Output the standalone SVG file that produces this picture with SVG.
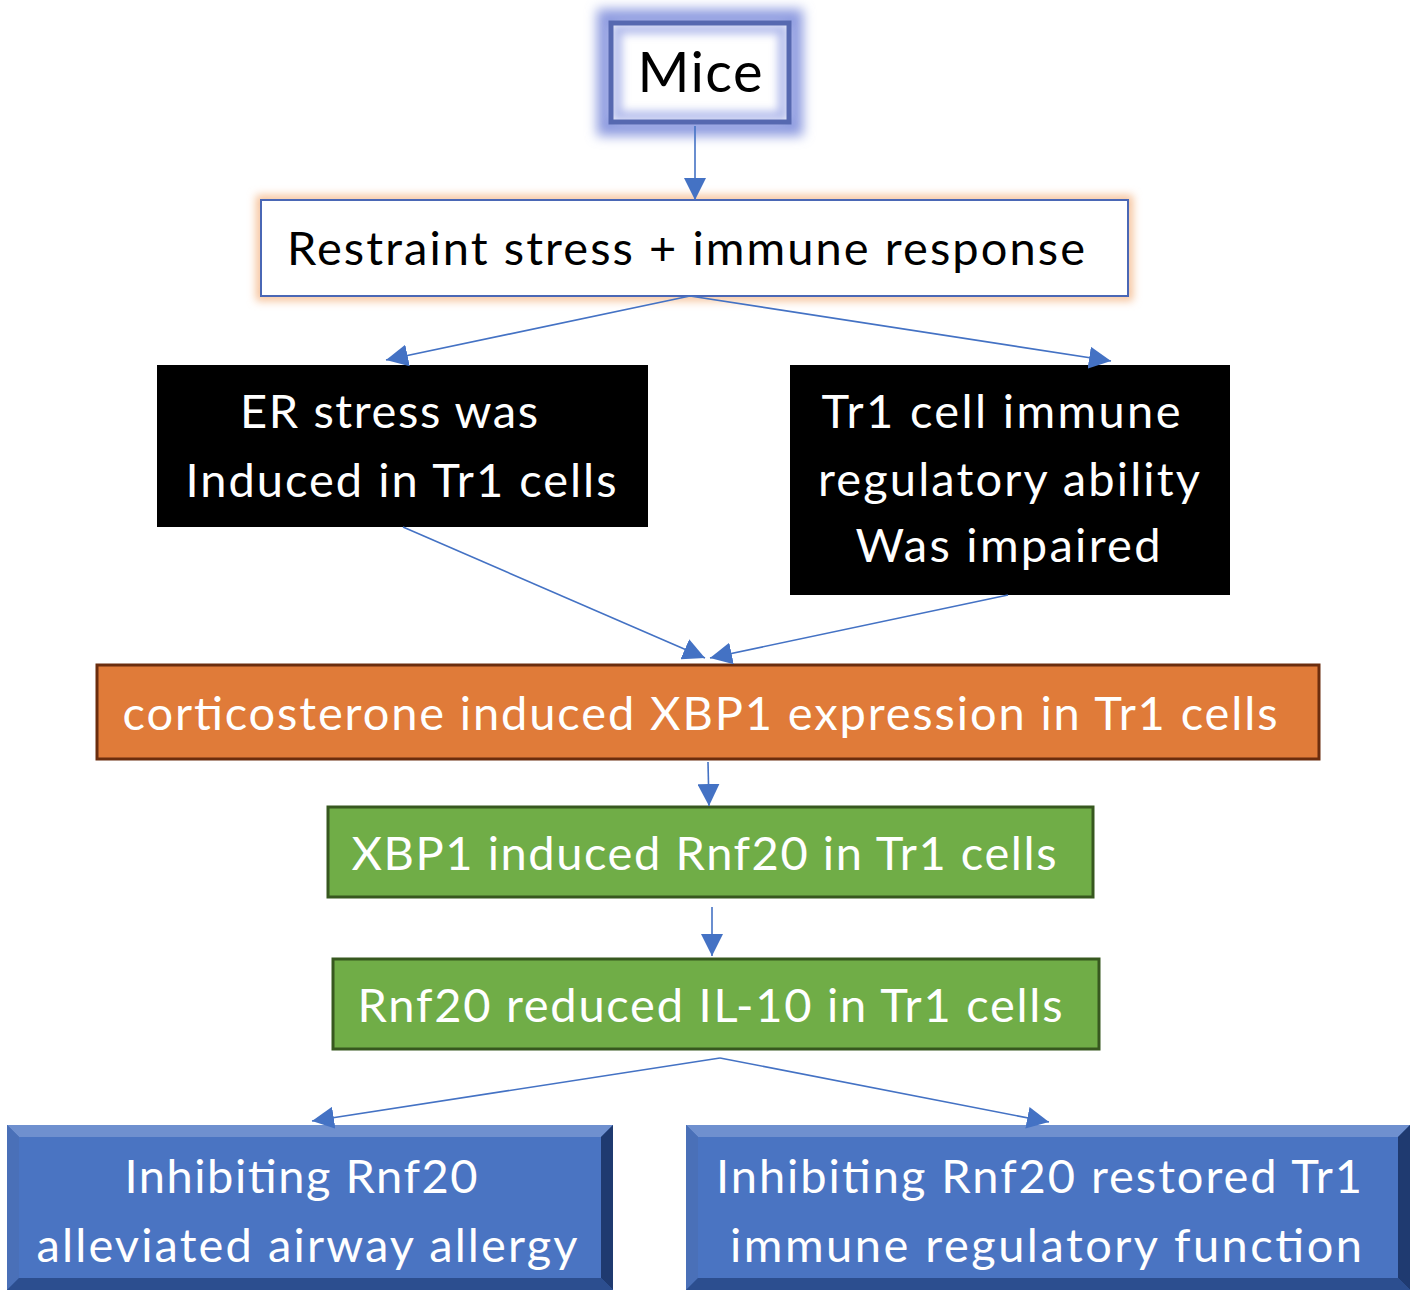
<svg xmlns="http://www.w3.org/2000/svg" width="1417" height="1300" viewBox="0 0 1417 1300">
<defs>
<style>
text{font-family:"Lato","Open Sans","Liberation Sans",sans-serif;font-size:47px;text-anchor:middle}
.blk{fill:#000}
.wht{fill:#fff}
.conn line{stroke:#4472c4;stroke-width:1.6;fill:none}
.bevT{fill:#6f90cf}
.bevL{fill:#4a70b8}
.bevR{fill:#1f3a70}
.bevB{fill:#2c4e8f}
.bevIn{fill:#4a74c2}
</style>
<marker id="ah" viewBox="0 0 20 20" refX="20" refY="10" markerWidth="22" markerHeight="22" markerUnits="userSpaceOnUse" orient="auto">
<path d="M0,0 L20,10 L0,20 Z" fill="#4472c4"/>
</marker>
<filter id="glowB" x="-30%" y="-30%" width="160%" height="160%">
<feGaussianBlur stdDeviation="6"/>
</filter>
<filter id="glowIn" x="-10%" y="-10%" width="120%" height="120%">
<feGaussianBlur stdDeviation="4"/>
</filter>
<filter id="glowO" x="-10%" y="-30%" width="120%" height="160%">
<feGaussianBlur stdDeviation="4"/>
</filter>
</defs>
<rect width="1417" height="1300" fill="#fff"/>

<g id="mice">
<rect x="606" y="18" width="188" height="109" fill="none" stroke="#8e9be0" stroke-width="18" filter="url(#glowB)"/>
<rect x="611" y="23" width="178" height="99" fill="#fff"/>
<rect x="617" y="29" width="166" height="87" fill="none" stroke="#b3bcec" stroke-width="10" filter="url(#glowIn)"/>
<rect x="611" y="23" width="178" height="99" fill="none" stroke="#5668b0" stroke-width="5"/>
<text class="blk" x="700" y="92" style="font-size:56px" textLength="125">Mice</text>
</g>

<g id="restraint">
<rect x="261" y="200" width="867" height="96" fill="none" stroke="#f6c29a" stroke-width="10" filter="url(#glowO)"/>
<rect x="261" y="200" width="867" height="96" fill="#fff" stroke="#4a67b5" stroke-width="2"/>
<text class="blk" x="686" y="265" textLength="798">Restraint stress + immune response</text>
</g>

<g id="er">
<rect x="157" y="365" width="491" height="162" fill="#000"/>
<text class="wht" x="389" y="428" textLength="298">ER stress was</text>
<text class="wht" x="401" y="497" textLength="431">Induced in Tr1 cells</text>
</g>

<g id="tr1">
<rect x="790" y="365" width="440" height="230" fill="#000"/>
<text class="wht" x="1001" y="428" textLength="359">Tr1 cell immune</text>
<text class="wht" x="1009" y="496" textLength="382">regulatory ability</text>
<text class="wht" x="1008" y="562" textLength="305">Was impaired</text>
</g>

<g id="cort">
<rect x="97" y="665" width="1222" height="94" fill="#e07b39" stroke="#6b2d0e" stroke-width="3"/>
<text class="wht" x="700" y="730" textLength="1155">corticosterone induced XBP1 expression in Tr1 cells</text>
</g>

<g id="xbp1">
<rect x="328" y="807" width="765" height="90" fill="#70ad47" stroke="#37581f" stroke-width="3"/>
<text class="wht" x="704" y="870" textLength="705">XBP1 induced Rnf20 in Tr1 cells</text>
</g>

<g id="rnf20">
<rect x="333" y="959" width="766" height="90" fill="#70ad47" stroke="#37581f" stroke-width="3"/>
<text class="wht" x="710" y="1022" textLength="705">Rnf20 reduced IL-10 in Tr1 cells</text>
</g>

<g id="allergy">
<rect x="7" y="1125" width="606" height="165" fill="#3d65ae"/>
<polygon class="bevT" points="7,1125 613,1125 601,1137 19,1137"/>
<polygon class="bevL" points="7,1125 19,1137 19,1278 7,1290"/>
<polygon class="bevR" points="613,1125 613,1290 601,1278 601,1137"/>
<polygon class="bevB" points="7,1290 19,1278 601,1278 613,1290"/>
<rect class="bevIn" x="19" y="1137" width="582" height="141"/>
<text class="wht" x="301" y="1193" textLength="353">Inhibiting Rnf20</text>
<text class="wht" x="307" y="1262" textLength="541">alleviated airway allergy</text>
</g>

<g id="restored">
<rect x="686" y="1125" width="724" height="165" fill="#3d65ae"/>
<polygon class="bevT" points="686,1125 1410,1125 1398,1137 698,1137"/>
<polygon class="bevL" points="686,1125 698,1137 698,1278 686,1290"/>
<polygon class="bevR" points="1410,1125 1410,1290 1398,1278 1398,1137"/>
<polygon class="bevB" points="686,1290 698,1278 1398,1278 1410,1290"/>
<rect class="bevIn" x="698" y="1137" width="700" height="141"/>
<text class="wht" x="1039" y="1193" textLength="646">Inhibiting Rnf20 restored Tr1</text>
<text class="wht" x="1046" y="1262" textLength="632">immune regulatory function</text>
</g>

<g class="conn" id="connectors">
<line x1="695" y1="126" x2="695" y2="200" marker-end="url(#ah)"/>
<line x1="690" y1="296" x2="386" y2="360" marker-end="url(#ah)"/>
<line x1="690" y1="296" x2="1111" y2="361" marker-end="url(#ah)"/>
<line x1="403" y1="527" x2="705" y2="658" marker-end="url(#ah)"/>
<line x1="1008" y1="595" x2="710" y2="658" marker-end="url(#ah)"/>
<line x1="708" y1="762" x2="709" y2="806" marker-end="url(#ah)"/>
<line x1="712" y1="907" x2="712" y2="956" marker-end="url(#ah)"/>
<line x1="720" y1="1058" x2="312" y2="1121" marker-end="url(#ah)"/>
<line x1="720" y1="1058" x2="1049" y2="1122" marker-end="url(#ah)"/>
</g>
</svg>
